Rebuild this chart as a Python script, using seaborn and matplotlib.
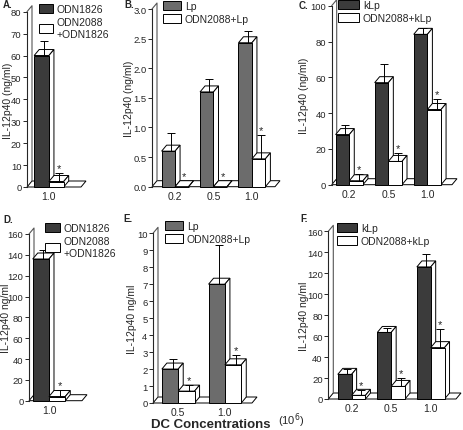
import seaborn as sns
import numpy as np
import pandas as pd
import matplotlib
matplotlib.use("Agg")
import matplotlib.pyplot as plt
from matplotlib.patches import Polygon, Patch

sns.set_style("white")
plt.rcParams['font.family'] = ['Liberation Sans', 'DejaVu Sans']

# data (front height of bar, upper error)
a_conc = ["1.0"]
a_odn1826 = [60]
a_odn1826_err = [6.5]
a_odn2088 = [2.5]
a_odn2088_err = [4]

b_conc = ["0.2", "0.5", "1.0"]
b_lp = [0.6, 1.6, 2.43]
b_lp_err = [0.3, 0.22, 0.2]
b_odn = [0.0, 0.0, 0.47]
b_odn_err = [0, 0, 0.4]

c_conc = ["0.2", "0.5", "1.0"]
c_klp = [28, 57, 84]
c_klp_err = [5.5, 10.5, 3.5]
c_odn = [2.2, 13, 42]
c_odn_err = [3.5, 4.5, 6]

d_conc = ["1.0"]
d_odn1826 = [136]
d_odn1826_err = [9]
d_odn2088 = [4]
d_odn2088_err = [6]

e_conc = ["0.5", "1.0"]
e_lp = [2.0, 7.0]
e_lp_err = [0.6, 2.3]
e_odn = [0.7, 2.25]
e_odn_err = [0.35, 0.55]

f_conc = ["0.2", "0.5", "1.0"]
f_klp = [23.5, 63.5, 126]
f_klp_err = [5, 4, 12.5]
f_odn = [3.5, 12, 49]
f_odn_err = [5, 8, 18]

W, H = 464, 431
fig = plt.figure(figsize=(W / 100, H / 100), dpi=100)

DARK = "#3b3b3b"
GRAY = "#6c6c6c"
DEPTH_X, DEPTH_Y = 5, 6   # pixels of the fake 3d depth


def panel(letter, letter_xy, box, xlim, ylim, yticks, ylabel, ylabel_x, conc,
          s1, e1, s2, e2, names, c1, legpos, hlen, yfmt="{:g}"):
    left, right, top, bottom = box
    ax = fig.add_axes([left / W, 1 - bottom / H, (right - left) / W, (bottom - top) / H])
    df = pd.DataFrame({
        "conc": conc * 2,
        "value": list(s1) + list(s2),
        "err": list(e1) + list(e2),
        "group": [names[0]] * len(conc) + [names[1]] * len(conc),
    })
    sns.barplot(data=df, x="conc", y="value", hue="group", order=conc,
                hue_order=names, palette=[c1, "white"], width=0.7,
                edgecolor="black", linewidth=0.7, errorbar=None,
                legend=False, ax=ax, zorder=5)
    bars = sorted(list(ax.patches), key=lambda p: p.get_x())
    ax.set_xlim(*xlim)
    ax.set_ylim(*ylim)
    dx = DEPTH_X * (xlim[1] - xlim[0]) / (right - left)
    dy = DEPTH_Y * (ylim[1] - ylim[0]) / (bottom - top)

    # floor and back wall
    x0, x1 = xlim
    ax.add_patch(Polygon([(x0, 0), (x1, 0), (x1 + dx, dy), (x0 + dx, dy)],
                         closed=True, fc="white", ec="black", lw=0.7,
                         zorder=1, clip_on=False))
    ax.plot([x0, x0 + dx, x0 + dx], [ylim[1], ylim[1] + dy, dy],
            color="#555555", lw=0.8, clip_on=False, zorder=1)

    for k, p in enumerate(bars):
        bx, bw, bh = p.get_x(), p.get_width(), p.get_height()
        z = 10 + 3 * k
        ax.add_patch(Polygon([(bx, bh), (bx + bw, bh), (bx + bw + dx, bh + dy), (bx + dx, bh + dy)],
                             closed=True, fc="white", ec="black", lw=0.7, zorder=z, clip_on=False))
        ax.add_patch(Polygon([(bx + bw, 0), (bx + bw + dx, dy), (bx + bw + dx, bh + dy), (bx + bw, bh)],
                             closed=True, fc="white", ec="black", lw=0.7, zorder=z, clip_on=False))
        p.set_zorder(z + 1)
        p.set_clip_on(False)

    # error bars and stars, matched to bars through their x order
    rows = df.copy()
    rows["pos"] = list(range(len(conc))) * 2
    rows["off"] = [-1] * len(conc) + [1] * len(conc)
    rows = rows.sort_values(["pos", "off"]).reset_index(drop=True)
    for k, p in enumerate(bars):
        xc = p.get_x() + p.get_width() / 2 + dx / 2
        h = rows.loc[k, "value"]
        err = rows.loc[k, "err"]
        top_y = h + err
        if err > 0:
            ax.errorbar([xc], [h], yerr=[[0], [err]], fmt="none", ecolor="black",
                        elinewidth=0.7, capsize=3, capthick=0.7, zorder=100)
        else:
            top_y = h + dy
        if rows.loc[k, "off"] == 1:
            ax.annotate("*", (xc, top_y), xytext=(0, 0), textcoords="offset points",
                        ha="center", va="bottom", fontsize=8, zorder=101)

    sns.despine(ax=ax, top=True, right=True)
    ax.spines["left"].set_linewidth(0.8)
    ax.spines["bottom"].set_visible(False)
    ax.set_yticks(yticks)
    ax.set_yticklabels([yfmt.format(t) for t in yticks])
    ax.tick_params(axis="y", length=3, width=0.7, labelsize=6.8, pad=1, left=True)
    ax.tick_params(axis="x", length=0, labelsize=7.5, pad=3)
    ax.set_xlabel("")
    ax.set_ylabel(ylabel, fontsize=7.5, va="center")
    ax.yaxis.set_label_coords((ylabel_x - left) / (right - left), 0.5)
    ax.patch.set_alpha(0)

    handles = [Patch(fc=c1, ec="black", lw=0.7), Patch(fc="white", ec="black", lw=0.7)]
    fig.legend(handles, names, loc="upper left",
               bbox_to_anchor=(legpos[0] / W, 1 - legpos[1] / H),
               frameon=False, fontsize=7.5, handlelength=hlen, handleheight=0.9,
               handletextpad=0.4, labelspacing=0.3, borderpad=0, borderaxespad=0)
    fig.text(letter_xy[0] / W, 1 - letter_xy[1] / H, letter,
             fontsize=7, fontweight="bold", va="center", ha="left")
    return ax


panel("A.", (3, 5), (27, 81, 12.7, 188), (-0.52, 0.76), (0, 80), np.arange(0, 81, 10),
      "IL-12p40 (ng/ml)", 8, a_conc, a_odn1826, a_odn1826_err, a_odn2088, a_odn2088_err,
      ["ODN1826", "ODN2088\n+ODN1826"], DARK, (39, 5), 1.3)
panel("B.", (124, 5), (152, 275, 10, 187.7), (-0.6, 2.6), (0, 3.0), np.arange(0, 3.01, 0.5),
      "IL-12p40 (ng/ml)", 129, b_conc, b_lp, b_lp_err, b_odn, b_odn_err,
      ["Lp", "ODN2088+Lp"], GRAY, (163, 2), 1.7, yfmt="{:.1f}")
panel("C.", (299, 6), (331.7, 452, 6.7, 185.7), (-0.45, 2.63), (0, 100), np.arange(0, 101, 20),
      "IL-12p40 (ng/ml)", 304, c_conc, c_klp, c_klp_err, c_odn, c_odn_err,
      ["kLp", "ODN2088+kLp"], DARK, (338, 1), 2.0)
panel("D.", (3, 220), (29, 82, 235, 401.7), (-0.43, 0.71), (0, 160), np.arange(0, 161, 20),
      "IL-12p40 ng/ml", 5.5, d_conc, d_odn1826, d_odn1826_err, d_odn2088, d_odn2088_err,
      ["ODN1826", "ODN2088\n+ODN1826"], DARK, (45, 224), 1.4)
panel("E.", (123, 219), (153, 252, 234.3, 404), (-0.54, 1.58), (0, 10), np.arange(0, 11, 1),
      "IL-12p40 ng/ml", 132, e_conc, e_lp, e_lp_err, e_odn, e_odn_err,
      ["Lp", "ODN2088+Lp"], GRAY, (165, 222), 1.7)
panel("F.", (300, 219), (328.3, 456, 232.3, 400), (-0.59, 2.64), (0, 160), np.arange(0, 161, 20),
      "IL-12p40 ng/ml", 304, f_conc, f_klp, f_klp_err, f_odn, f_odn_err,
      ["kLp", "ODN2088+kLp"], DARK, (337, 224), 1.9)

fig.text(211 / W, 1 - 425 / H, "DC Concentrations", fontsize=9.5, fontweight="bold",
         ha="center", va="center")
fig.text(291 / W, 1 - 421 / H, "(10$^{6}$)", fontsize=8, ha="center", va="center")

fig.savefig("out.png", dpi=100)
